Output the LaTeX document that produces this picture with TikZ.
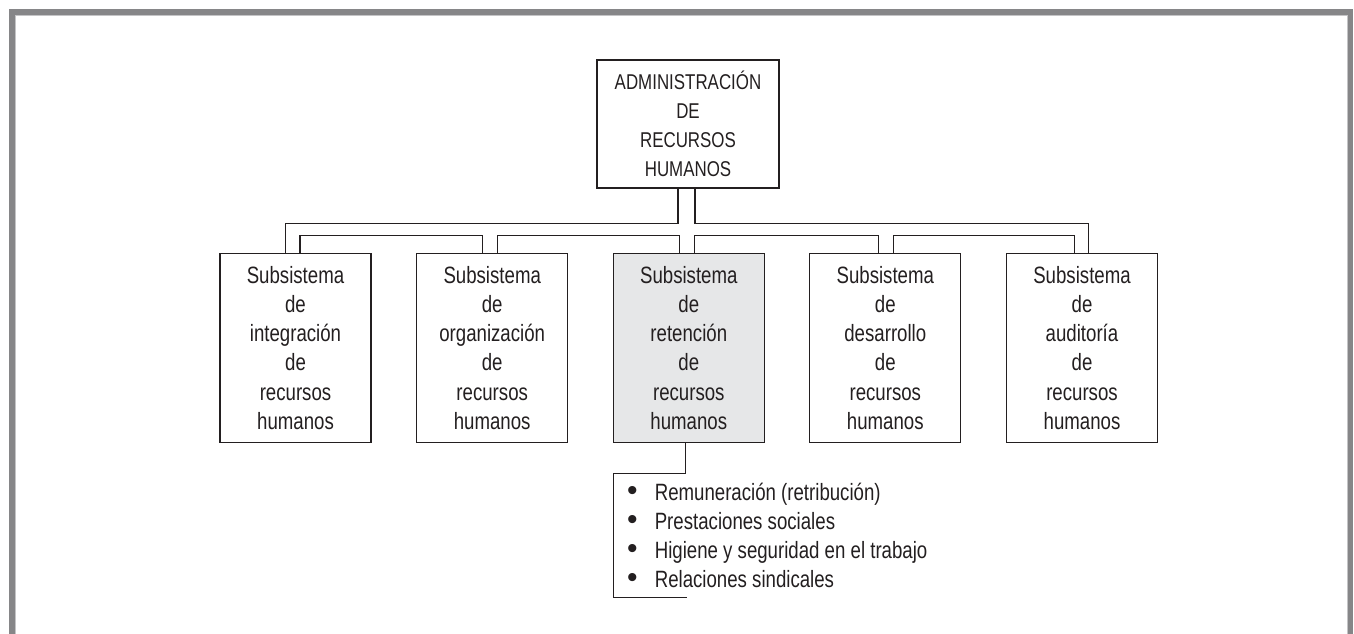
\documentclass[tikz,border=0pt]{standalone}
\usepackage{fontspec}
\setmainfont{Liberation Sans}[FakeStretch=0.79]
\newfontfamily\bulletfont{Liberation Sans}
\usetikzlibrary{calc}
\definecolor{frame}{HTML}{868688}
\definecolor{framein}{HTML}{C4C4C6}
\definecolor{ink}{HTML}{231F20}
\definecolor{shade}{HTML}{E6E7E8}
\newcommand{\bul}{\makebox[27.6pt][l]{\bulletfont\fontsize{30}{30}\selectfont •}}
\tikzset{
  box/.style={draw=ink, line width=1.2pt, inner sep=0pt, align=center, text=ink,
    minimum width=151pt, minimum height=189.2pt,
    font=\fontsize{23.6}{29.2}\selectfont},
  topbox/.style={box, minimum width=182pt, minimum height=128pt,
    font=\fontsize{21.4}{29}\selectfont},
  conn/.style={draw=ink, line width=1.2pt},
}
\begin{document}
\begin{tikzpicture}[x=1pt, y=-1pt]
\useasboundingbox (0,0) rectangle (1354,634);
% frame
\draw[frame, line width=5.5pt] (12,640) -- (12,12) -- (1350.5,12) -- (1350.5,640);
\draw[framein, line width=1pt] (15.3,640) -- (15.3,15.3) -- (1347.2,15.3) -- (1347.2,640);
% nodes
\node[topbox] (top) at (688,124) {ADMINISTRACIÓN\\DE\\RECURSOS\\HUMANOS};
\node[box] (b1) at (295.5,347.9) {Subsistema\\de\\integración\\de\\recursos\\humanos};
\node[box] (b2) at (492.2,347.9) {Subsistema\\de\\organización\\de\\recursos\\humanos};
\node[box, fill=shade] (b3) at (688.8,347.9) {Subsistema\\de\\retención\\de\\recursos\\humanos};
\node[box] (b4) at (885.3,347.9) {Subsistema\\de\\desarrollo\\de\\recursos\\humanos};
\node[box] (b5) at (1082,347.9) {Subsistema\\de\\auditoría\\de\\recursos\\humanos};
\node[anchor=north west, align=left, inner sep=0pt, text=ink,
  font=\fontsize{23.6}{29.2}\selectfont] (lst) at (627,482.8)
  {\bul Remuneración (retribución)\\
   \bul Prestaciones sociales\\
   \bul Higiene y seguridad en el trabajo\\
   \bul Relaciones sindicales};
% connectors
\draw[conn] ([xshift=-10]top.south) -- ++(0,34.7) -| ([xshift=-9.8]b1.north);
\draw[conn] ([xshift=7]top.south) -- ++(0,34.7) -| ([xshift=6.3]b5.north);
\draw[conn] ([xshift=4.5]b1.north) -- ++(0,-17.3) -| ([xshift=-9.5]b2.north);
\draw[conn] ([xshift=5.5]b2.north) -- ++(0,-17.3) -| ([xshift=-9.7]b3.north);
\draw[conn] ([xshift=5.6]b3.north) -- ++(0,-17.3) -| ([xshift=-7]b4.north);
\draw[conn] ([xshift=8]b4.north) -- ++(0,-17.3) -| ([xshift=-7.7]b5.north);
\coordinate (brk1) at (613.7,473.3);
\coordinate (brk2) at (686.7,597.7);
\draw[conn] ([xshift=-3.4]b3.south) |- (brk1) |- (brk2);
\end{tikzpicture}
\end{document}
